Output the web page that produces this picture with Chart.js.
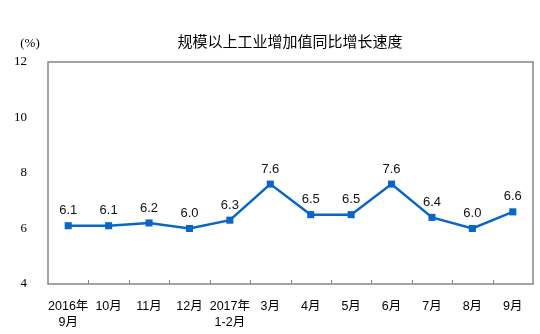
<!DOCTYPE html>
<html>
<head>
<meta charset="utf-8">
<script src="https://cdn.jsdelivr.net/npm/chart.js@4/dist/chart.umd.min.js"></script>
<style>
  html, body { margin: 0; padding: 0; background: #fff; }
  #wrap { width: 540px; height: 334px; position: relative; }
</style>
</head>
<body>
<div id="wrap"><canvas id="growthChart"></canvas></div>
<script>
const months = [
  ['2016年', '9月'], '10月', '11月', '12月', ['2017年', '1-2月'],
  '3月', '4月', '5月', '6月', '7月', '8月', '9月'
];
const growthRates = [6.1, 6.1, 6.2, 6.0, 6.3, 7.6, 6.5, 6.5, 7.6, 6.4, 6.0, 6.6];
const yTicks = [4, 6, 8, 10, 12];
const chartTitle = '规模以上工业增加值同比增长速度';
const unitLabel = '(%)';

const lineColor = '#0866c6';
const frameColor = '#868686';

// title, unit, frame, inner ticks and value labels
const decorations = {
  id: 'decorations',
  afterDatasetsDraw(chart) {
    const { ctx, chartArea: a } = chart;
    const x = chart.scales.x;

    ctx.save();
    ctx.strokeStyle = frameColor;
    ctx.lineWidth = 1.5;
    ctx.strokeRect(a.left, a.top, a.right - a.left, a.bottom - a.top);

    ctx.lineWidth = 1;
    for (let i = 1; i < months.length; i++) {
      const px = Math.round(x.getPixelForValue(i - 0.5)) + 0.5;
      ctx.beginPath();
      ctx.moveTo(px, a.bottom - 4);
      ctx.lineTo(px, a.bottom);
      ctx.stroke();
    }

    ctx.fillStyle = '#111';
    ctx.font = '13px "Liberation Sans", Arial, sans-serif';
    ctx.textAlign = 'center';
    ctx.textBaseline = 'middle';
    const meta = chart.getDatasetMeta(0);
    meta.data.forEach((pt, i) => {
      ctx.fillText(growthRates[i].toFixed(1), pt.x, pt.y - 15);
    });

    ctx.fillStyle = '#000';
    ctx.font = '15px "Noto Sans CJK SC", sans-serif';
    ctx.fillText(chartTitle, 290, 41);

    ctx.font = '13px "Liberation Serif", serif';
    ctx.fillText(unitLabel, 30, 44);
    ctx.restore();
  }
};

const ctx = document.getElementById('growthChart').getContext('2d');
const growthChart = new Chart(ctx, {
  type: 'line',
  data: {
    labels: months,
    datasets: [{
      data: growthRates,
      borderColor: lineColor,
      backgroundColor: lineColor,
      borderWidth: 2.5,
      pointStyle: 'rect',
      pointRadius: 5,
      pointBorderWidth: 0,
      tension: 0
    }]
  },
  options: {
    responsive: true,
    maintainAspectRatio: false,
    animation: false,
    layout: { padding: { top: 62, right: 7, left: 0, bottom: 0 } },
    plugins: {
      legend: { display: false },
      tooltip: { enabled: false }
    },
    scales: {
      x: {
        offset: true,
        grid: { display: false },
        border: { display: false },
        ticks: {
          color: '#000',
          padding: 7,
          maxRotation: 0,
          autoSkip: false,
          font: { family: '"Liberation Sans", "Noto Sans CJK SC", sans-serif', size: 12.5, lineHeight: 1.25 }
        },
        afterFit(scale) { scale.height = 50; }
      },
      y: {
        min: 4,
        max: 12,
        afterBuildTicks(scale) { scale.ticks = yTicks.map(v => ({ value: v })); },
        grid: { display: false },
        border: { display: false },
        ticks: {
          color: '#000',
          padding: 13,
          font: { family: '"Liberation Serif", serif', size: 13 }
        },
        afterFit(scale) { scale.width = 48; }
      }
    }
  },
  plugins: [decorations]
});
</script>
</body>
</html>
